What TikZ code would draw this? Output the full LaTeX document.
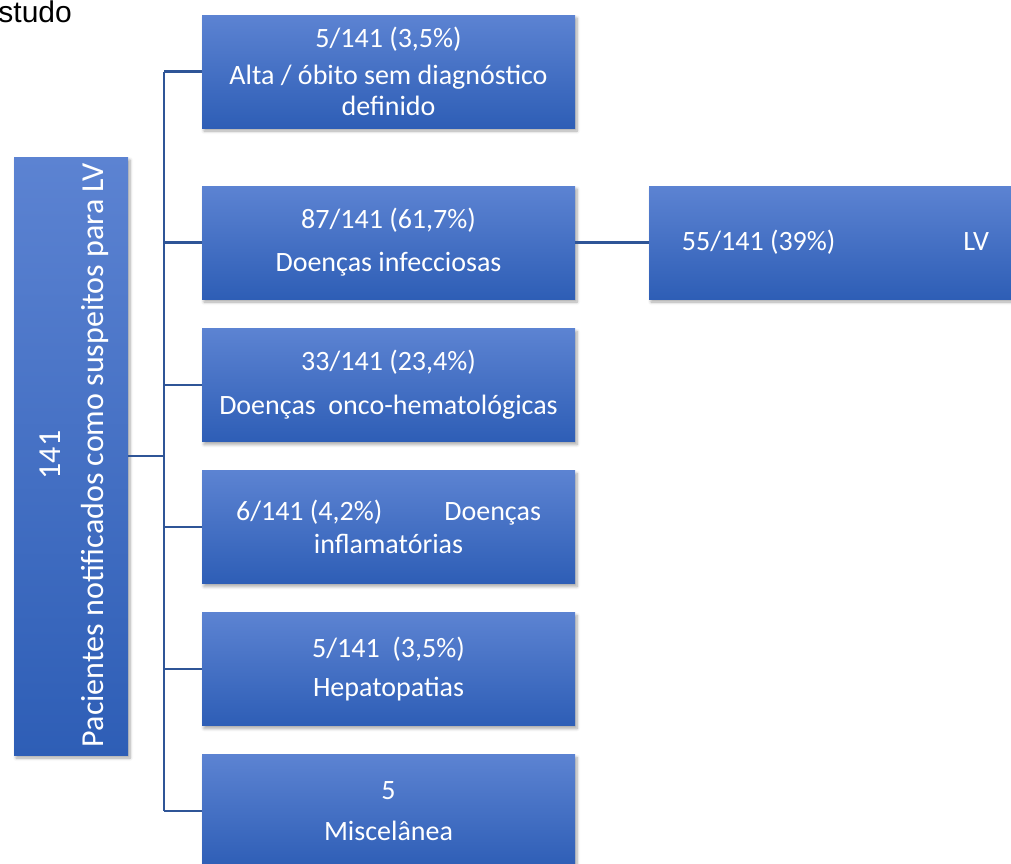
\documentclass[tikz,border=0pt]{standalone}
\usepackage{fontspec}
\setmainfont{Carlito}
\newfontfamily\arialf{Liberation Sans}
\usetikzlibrary{shadows.blur}
\definecolor{btop}{RGB}{92,131,210}
\definecolor{bbot}{RGB}{46,94,182}
\definecolor{lnk}{RGB}{47,85,151}
\tikzset{
  box/.style={draw=none, top color=btop, bottom color=bbot, minimum width=373pt,
    minimum height=113pt, inner sep=0pt, align=center, text=white,
    font=\fontsize{28}{31}\selectfont,
    blur shadow={shadow xshift=2pt, shadow yshift=-3pt, shadow blur steps=6,
      shadow blur radius=3pt, shadow opacity=35}},
  lbox/.style={box, minimum width=114pt, minimum height=598pt},
  ltext/.style={rotate=90, align=center, text=white, inner sep=0pt,
    font=\fontsize{32}{38}\selectfont},
  link/.style={draw=lnk, line width=2.4pt}
}
\begin{document}
\begin{tikzpicture}[x=1pt,y=-1pt]
\useasboundingbox (0,0) rectangle (1011,863);
\node[font=\arialf\fontsize{30}{34}\selectfont, anchor=base east, inner sep=0pt] (st) at (72,22.5) {studo};
\node[lbox] (L) at (71,456) {};
\node[ltext] (Lt) at (74,455) {141\\[5pt]Pacientes notificados como suspeitos para LV};
\node[box] (b1) at (388.5,71.5) {5/141 (3,5\%)\\[6pt]Alta / óbito sem diagnóstico\\definido};
\node[box] (b2) at (388.5,242.5) {87/141 (61,7\%)\\[12pt]Doenças infecciosas};
\node[box] (b3) at (388.5,385) {33/141 (23,4\%)\\[13pt]Doenças\ \ onco-hematológicas};
\node[box] (b4) at (388.5,527) {6/141 (4,2\%)\hspace{62pt}Doenças\\[2pt]inflamatórias};
\node[box] (b5) at (388.5,669) {5/141\ \ (3,5\%)\\[8pt]Hepatopatias};
\node[box] (b6) at (388.5,811) {5\\[10pt]Miscelânea};
\node[box] (R) at (835.5,242.5) {55/141 (39\%)\hspace{128pt}LV};
\coordinate (tr) at (164,456);
\draw[link] (L.east) -- (L.east -| tr);
\draw[link] (b1.west -| tr) -- (b6.west -| tr);
\foreach \n in {b1,b2,b3,b4,b5,b6} \draw[link] (\n.west -| tr) -- (\n.west);
\draw[link] (b2.east) -- (R.west);
\end{tikzpicture}
\end{document}
